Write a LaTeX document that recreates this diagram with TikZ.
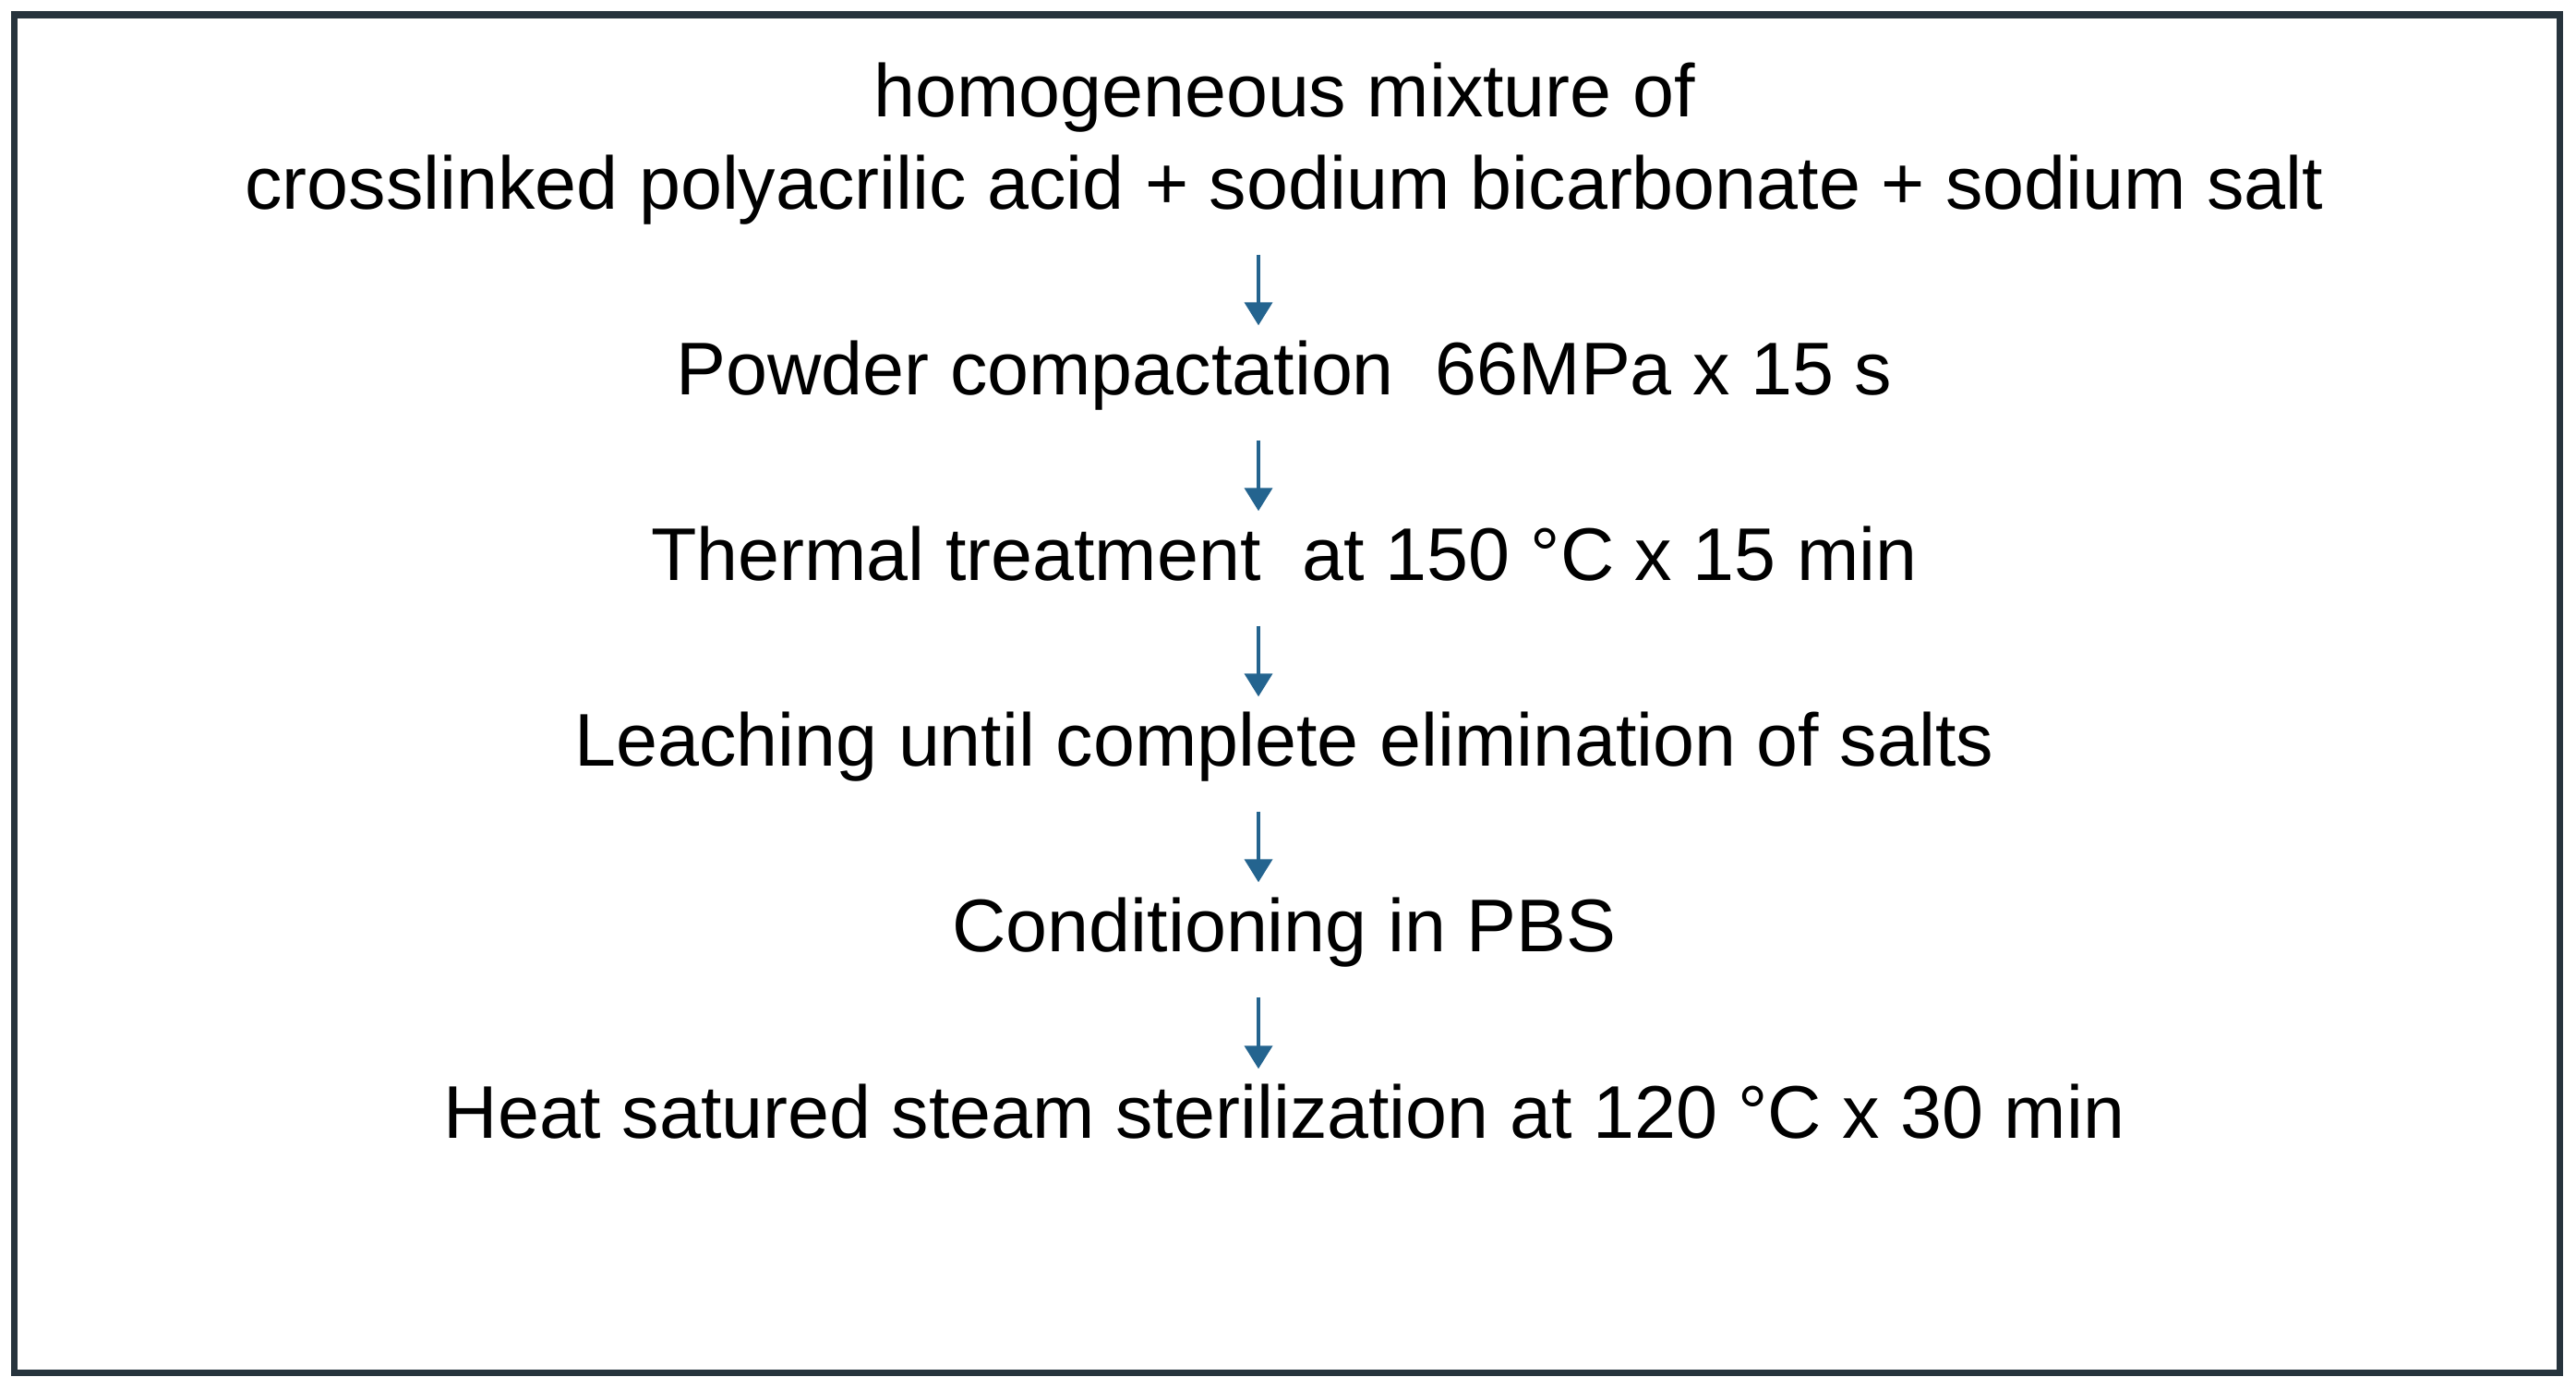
\documentclass[tikz,border=0pt]{standalone}
\usepackage{fontspec}
\setmainfont{Liberation Sans}
\usetikzlibrary{arrows.meta}
\definecolor{framegray}{HTML}{27343D}
\definecolor{arrowblue}{HTML}{24648F}
\begin{document}
\begin{tikzpicture} [
                    stepline/.style={anchor=base, inner sep=0pt, text height=0.55cm, text depth=0.2cm, font=\fontsize{23}{26}\selectfont},
                    flow/.style={draw=arrowblue, line width=1.1pt, -{Triangle[length=0.25cm, width=0.3cm]}, shorten <=0.29cm, shorten >=0.19cm}
                ]
                \useasboundingbox (0,0) rectangle (27.9,-15.03);
                \draw [framegray, line width=2pt] (0.155,-0.16) rectangle (27.72,-14.86);
                % process steps
                \node [stepline] (mix) at (13.91,-1.26) {homogeneous mixture of};
                \node [stepline] (mixb) at (13.91,-2.26) {crosslinked polyacrilic acid + sodium bicarbonate + sodium salt};
                \node [stepline] (press) at (13.91,-4.27) {Powder compactation~ 66MPa x 15 s};
                \node [stepline] (heat) at (13.91,-6.28) {Thermal treatment~ at 150 °C x 15 min};
                \node [stepline] (leach) at (13.91,-8.29) {Leaching until complete elimination of salts};
                \node [stepline] (pbs) at (13.91,-10.30) {Conditioning in PBS};
                \node [stepline] (steril) at (13.91,-12.32) {Heat satured steam sterilization at 120 °C x 30 min};
                % arrows
                \draw [flow] ([xshift=-0.28cm]mixb.south) -- ([xshift=-0.28cm]press.north);
                \draw [flow] ([xshift=-0.28cm]press.south) -- ([xshift=-0.28cm]heat.north);
                \draw [flow] ([xshift=-0.28cm]heat.south) -- ([xshift=-0.28cm]leach.north);
                \draw [flow] ([xshift=-0.28cm]leach.south) -- ([xshift=-0.28cm]pbs.north);
                \draw [flow] ([xshift=-0.28cm]pbs.south) -- ([xshift=-0.28cm]steril.north);
\end{tikzpicture}
\end{document}
